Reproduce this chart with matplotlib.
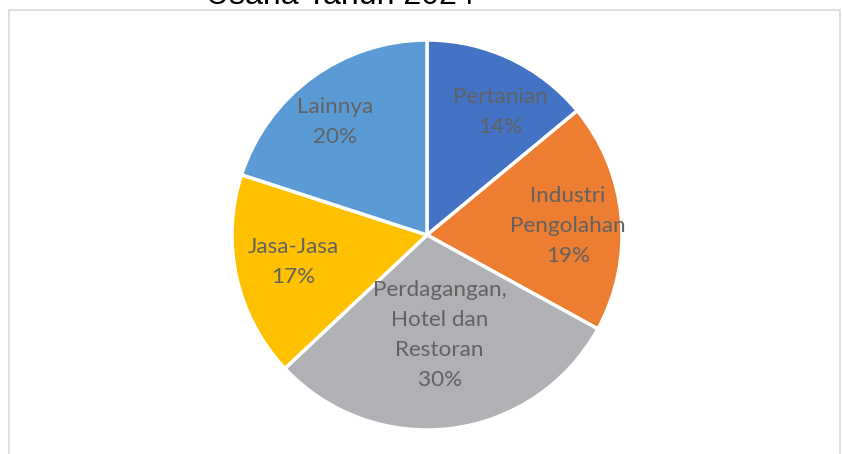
import matplotlib
matplotlib.use("Agg")
import matplotlib.pyplot as plt
from matplotlib.patches import Rectangle
import numpy as np

categories = ["Pertanian", "Industri\nPengolahan", "Perdagangan,\nHotel dan\nRestoran", "Jasa-Jasa", "Lainnya"]
values = [14, 19, 30, 17, 20]
colors = ["#4472C4", "#ED7D31", "#B0B1B4", "#FFC000", "#5B9BD5"]
title_text = "Usaha Tahun 2024"

# label placement (fraction of radius, angular shift from slice middle in degrees)
label_dist = [0.733, 0.725, 0.517, 0.70, 0.747]
label_shift = [-5.5, -1.75, 0.0, -1.2, 3.2]

W, H = 842, 454
fig = plt.figure(figsize=(W / 100, H / 100), dpi=100)

# chart frame
fig.patches.append(Rectangle((9 / W, -0.1), (840 - 9) / W, 1.1 - 10 / H,
                             transform=fig.transFigure, fill=False,
                             edgecolor="#D9D9D9", linewidth=1.2))

cx, cy, r = 427, H - 235, 195
ax = fig.add_axes([(cx - r) / W, (cy - r) / H, 2 * r / W, 2 * r / H])
wedges, _ = ax.pie(values, colors=colors, startangle=90, counterclock=False,
                   wedgeprops=dict(edgecolor="white", linewidth=2.5))
ax.set_xlim(-1, 1)
ax.set_ylim(-1, 1)
ax.set_aspect("equal")
ax.axis("off")

for w, lab, val, d, s in zip(wedges, categories, values, label_dist, label_shift):
    ang = np.deg2rad((w.theta1 + w.theta2) / 2 + s)
    ax.text(d * np.cos(ang), d * np.sin(ang), f"{lab}\n{val}%",
            ha="center", va="center", fontsize=16.2, color="#626262",
            family="Lato", linespacing=1.64)

fig.text(340 / W, 1 - 4 / H, title_text, ha="center", va="baseline",
         fontsize=23, color="black", family="Liberation Sans")

fig.savefig("out.png", dpi=100)
